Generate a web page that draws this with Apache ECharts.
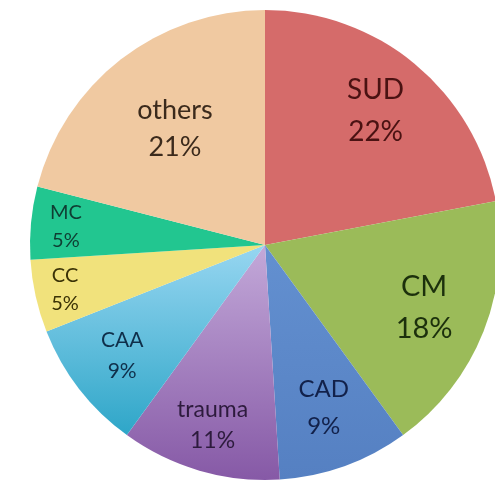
<!DOCTYPE html>
<html>
<head>
<meta charset="utf-8">
<script src="https://cdn.jsdelivr.net/npm/echarts@6/dist/echarts.min.js"></script>
<style>
  html, body { margin: 0; padding: 0; background: #fff; }
  #chart { width: 495px; height: 481px; }
</style>
</head>
<body>
<div id="chart"></div>
<script>
// slices, clockwise from 12 o'clock
const categories = ['SUD', 'CM', 'CAD', 'trauma', 'CAA', 'CC', 'MC', 'others'];
const shares = [22, 18, 9, 11, 9, 5, 5, 21];

// look of each slice
const sliceColors = [
  '#d56b6a',
  '#9bbb59',
  ['#6390d0', '#5580c2'],
  ['#c3a9d9', '#8659a6'],
  ['#97d6f1', '#2ea6c8'],
  '#f1e27c',
  '#22c690',
  '#f0c9a1'
];
const textColors = ['#4a1212', '#1c300c', '#12214a', '#2d1b3d', '#0f2f4a', '#3a3206', '#0f3d32', '#3b2a1c'];
const fontSizes = [28, 29, 24, 23, 21, 20, 20, 27];
const lineHeights = [42, 42, 37, 31, 31, 28, 28, 37];
const labelRadius = [0.72, 0.71, 0.72, 0.78, 0.75, 0.85, 0.83, 0.61]; // fraction of pie radius

const CX = 265, CY = 245, R = 235;

const chart = echarts.init(document.getElementById('chart'));

const pieData = categories.map((name, i) => {
  const c = sliceColors[i];
  const color = Array.isArray(c)
    ? new echarts.graphic.LinearGradient(0, 0, 0, 1, [
        { offset: 0, color: c[0] },
        { offset: 1, color: c[1] }
      ])
    : c;
  return {
    name: name,
    value: shares[i],
    itemStyle: { color: color },
    label: {
      color: textColors[i],
      fontSize: fontSizes[i],
      lineHeight: lineHeights[i]
    }
  };
});

chart.setOption({
  backgroundColor: '#fff',
  animation: false,
  series: [
    {
      type: 'pie',
      center: [CX, CY],
      radius: [0, R],
      startAngle: 90,
      clockwise: true,
      itemStyle: { borderWidth: 0 },
      label: {
        show: true,
        position: 'inside',
        formatter: '{b}\n{c}%',
        fontFamily: 'Lato, "Open Sans", sans-serif'
      },
      labelLine: { show: false },
      emphasis: { disabled: true },
      // push inside labels (placed at R/2) out to each slice's label radius
      labelLayout: function (params) {
        const r = params.labelRect;
        const lx = r.x + r.width / 2;
        const ly = r.y + r.height / 2;
        const k = 2 * labelRadius[params.dataIndex] - 1;
        return { dx: (lx - CX) * k, dy: (ly - CY) * k };
      },
      data: pieData
    }
  ]
});
</script>
</body>
</html>
